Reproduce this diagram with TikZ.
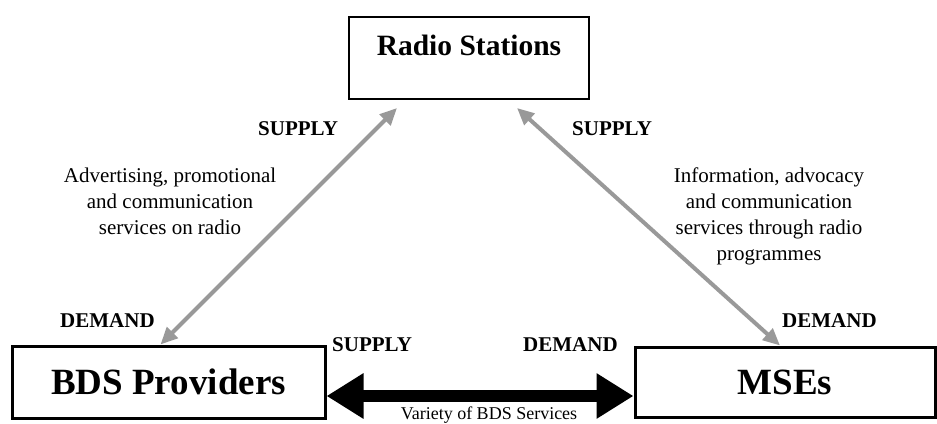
\documentclass[tikz,border=0pt]{standalone}
\usepackage{fontspec}
\setmainfont{Liberation Serif}
\usetikzlibrary{arrows.meta,calc,positioning}

\begin{document}
\begin{tikzpicture}[x=1pt,y=-1pt,
	box/.style={draw,line width=3pt,inner sep=0pt,font=\bfseries\fontsize{37}{44}\selectfont},
	tag/.style={anchor=base west,inner sep=0pt,font=\bfseries\fontsize{21}{26}\selectfont},
	note/.style={align=center,anchor=north,inner sep=0pt,font=\fontsize{21}{26}\selectfont},
	link/.style={draw=black!40,line width=4pt,{Triangle[length=17pt,width=15pt]}-{Triangle[length=17pt,width=15pt]}},
	flow/.style={line width=12pt,{Triangle[length=37pt,width=43pt]}-{Triangle[length=37pt,width=43pt]}}]
\useasboundingbox (0,0) rectangle (937,423);

\node[box,line width=2pt,font=\bfseries\fontsize{29.5}{35}\selectfont,minimum width=240pt,text height=38pt,text depth=44pt] (radio) at (469,58) {Radio Stations};
\node[box,minimum width=313pt,minimum height=72pt] (bds) at (168.5,382) {BDS Providers};
\node[box,minimum width=300pt,minimum height=70pt] (mse) at (785,382) {MSEs};

\draw[link] ($(radio.south)+(-72,8)$) -- ([xshift=-8pt]bds.north);
\draw[link] ($(radio.south)+(48,8)$) -- ([xshift=-5pt]mse.north);
\draw[flow] ([yshift=-14pt]bds.east) -- ([yshift=-14pt]mse.west);

\node[tag] (supplyL) at (258,135) {SUPPLY};
\node[tag] (supplyR) at (572,135) {SUPPLY};
\node[tag] (demandL) at (60,327) {DEMAND};
\node[tag] (demandR) at (782,327) {DEMAND};
\node[tag] (supplyB) at (332,351) {SUPPLY};
\node[tag] (demandB) at (523,351) {DEMAND};

\node[note] (radioL) at (170,168) {Advertising, promotional\\and communication\\services on radio};
\node[note] (radioR) at (769,168) {Information, advocacy\\and communication\\services through radio\\programmes};
\node[note,anchor=base,font=\fontsize{18}{22}\selectfont] (variety) at (489,419) {Variety of BDS Services};
\end{tikzpicture}
\end{document}
